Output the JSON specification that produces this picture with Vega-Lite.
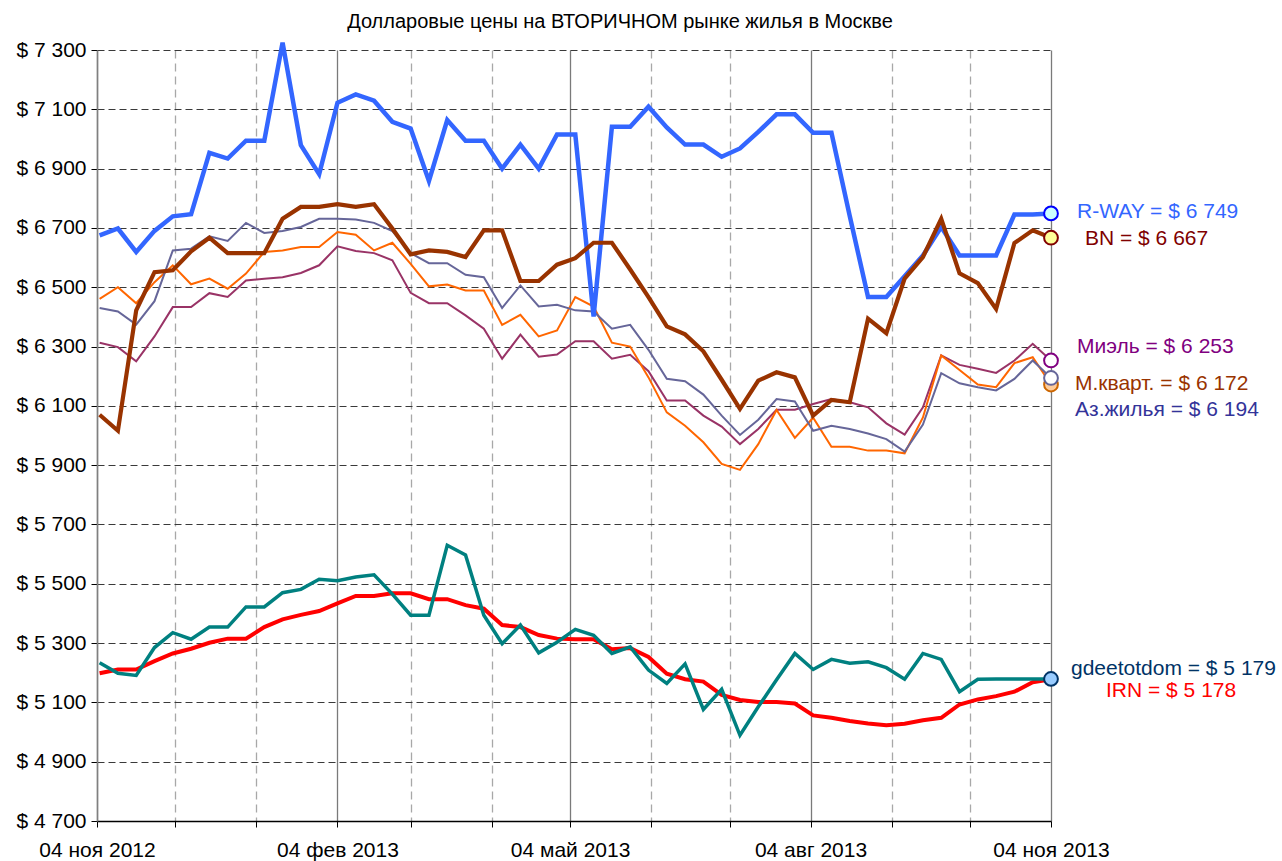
{
  "$schema": "https://vega.github.io/schema/vega-lite/v6.json",
  "width": 954,
  "height": 771,
  "autosize": {"type": "none"},
  "padding": {"left": 97, "top": 50, "right": 231, "bottom": 40},
  "background": "white",
  "config": {
    "font": "Liberation Sans",
    "view": {"stroke": null},
    "axis": {"labelFont": "Liberation Sans"}
  },
  "title": {
    "text": "Долларовые цены на ВТОРИЧНОМ рынке жилья в Москве",
    "fontSize": 20,
    "fontWeight": "normal",
    "font": "Liberation Sans",
    "color": "black",
    "anchor": "middle",
    "dx": 46,
    "offset": 2
  },
  "datasets": {
    "wide": [
      {"date": "2012-11-05", "rway": 6675, "bn": 6070, "mkv": 6461, "azh": 6430, "miel": 6313, "gde": 5234, "irn": 5198},
      {"date": "2012-11-12", "rway": 6698, "bn": 6016, "mkv": 6500, "azh": 6418, "miel": 6298, "gde": 5198, "irn": 5211},
      {"date": "2012-11-19", "rway": 6619, "bn": 6422, "mkv": 6446, "azh": 6374, "miel": 6250, "gde": 5191, "irn": 5211},
      {"date": "2012-11-26", "rway": 6690, "bn": 6551, "mkv": 6517, "azh": 6453, "miel": 6334, "gde": 5285, "irn": 5239},
      {"date": "2012-12-03", "rway": 6739, "bn": 6557, "mkv": 6574, "azh": 6624, "miel": 6433, "gde": 5335, "irn": 5265},
      {"date": "2012-12-10", "rway": 6746, "bn": 6621, "mkv": 6510, "azh": 6630, "miel": 6433, "gde": 5313, "irn": 5281},
      {"date": "2012-12-17", "rway": 6953, "bn": 6667, "mkv": 6529, "azh": 6672, "miel": 6480, "gde": 5354, "irn": 5301},
      {"date": "2012-12-24", "rway": 6934, "bn": 6615, "mkv": 6495, "azh": 6656, "miel": 6467, "gde": 5354, "irn": 5315},
      {"date": "2012-12-31", "rway": 6994, "bn": 6615, "mkv": 6546, "azh": 6717, "miel": 6523, "gde": 5422, "irn": 5315},
      {"date": "2013-01-07", "rway": 6994, "bn": 6615, "mkv": 6619, "azh": 6683, "miel": 6529, "gde": 5422, "irn": 5354},
      {"date": "2013-01-14", "rway": 7325, "bn": 6731, "mkv": 6624, "azh": 6690, "miel": 6534, "gde": 5470, "irn": 5380},
      {"date": "2013-01-21", "rway": 6979, "bn": 6771, "mkv": 6636, "azh": 6703, "miel": 6548, "gde": 5481, "irn": 5395},
      {"date": "2013-01-28", "rway": 6881, "bn": 6771, "mkv": 6636, "azh": 6731, "miel": 6574, "gde": 5515, "irn": 5408},
      {"date": "2013-02-04", "rway": 7122, "bn": 6780, "mkv": 6686, "azh": 6731, "miel": 6638, "gde": 5510, "irn": 5434},
      {"date": "2013-02-11", "rway": 7150, "bn": 6771, "mkv": 6677, "azh": 6728, "miel": 6622, "gde": 5523, "irn": 5459},
      {"date": "2013-02-18", "rway": 7129, "bn": 6780, "mkv": 6624, "azh": 6717, "miel": 6615, "gde": 5530, "irn": 5459},
      {"date": "2013-02-25", "rway": 7058, "bn": 6698, "mkv": 6650, "azh": 6689, "miel": 6591, "gde": 5465, "irn": 5468},
      {"date": "2013-03-04", "rway": 7035, "bn": 6611, "mkv": 6579, "azh": 6615, "miel": 6481, "gde": 5394, "irn": 5468},
      {"date": "2013-03-11", "rway": 6858, "bn": 6624, "mkv": 6503, "azh": 6581, "miel": 6446, "gde": 5394, "irn": 5448},
      {"date": "2013-03-18", "rway": 7064, "bn": 6619, "mkv": 6509, "azh": 6581, "miel": 6446, "gde": 5630, "irn": 5448},
      {"date": "2013-03-25", "rway": 6994, "bn": 6602, "mkv": 6489, "azh": 6542, "miel": 6405, "gde": 5597, "irn": 5428},
      {"date": "2013-04-01", "rway": 6994, "bn": 6692, "mkv": 6489, "azh": 6534, "miel": 6360, "gde": 5394, "irn": 5416},
      {"date": "2013-04-08", "rway": 6900, "bn": 6692, "mkv": 6373, "azh": 6430, "miel": 6259, "gde": 5298, "irn": 5361},
      {"date": "2013-04-15", "rway": 6981, "bn": 6521, "mkv": 6407, "azh": 6506, "miel": 6340, "gde": 5361, "irn": 5354},
      {"date": "2013-04-22", "rway": 6900, "bn": 6521, "mkv": 6334, "azh": 6435, "miel": 6266, "gde": 5267, "irn": 5327},
      {"date": "2013-04-29", "rway": 7015, "bn": 6576, "mkv": 6354, "azh": 6441, "miel": 6273, "gde": 5303, "irn": 5315},
      {"date": "2013-05-06", "rway": 7015, "bn": 6598, "mkv": 6467, "azh": 6422, "miel": 6318, "gde": 5346, "irn": 5313},
      {"date": "2013-05-13", "rway": 6401, "bn": 6650, "mkv": 6435, "azh": 6418, "miel": 6318, "gde": 5326, "irn": 5313},
      {"date": "2013-05-20", "rway": 7041, "bn": 6650, "mkv": 6313, "azh": 6360, "miel": 6259, "gde": 5265, "irn": 5279},
      {"date": "2013-05-27", "rway": 7041, "bn": 6560, "mkv": 6300, "azh": 6373, "miel": 6272, "gde": 5287, "irn": 5283},
      {"date": "2013-06-03", "rway": 7109, "bn": 6467, "mkv": 6196, "azh": 6289, "miel": 6217, "gde": 5209, "irn": 5253},
      {"date": "2013-06-10", "rway": 7039, "bn": 6368, "mkv": 6078, "azh": 6191, "miel": 6118, "gde": 5164, "irn": 5197},
      {"date": "2013-06-17", "rway": 6981, "bn": 6341, "mkv": 6033, "azh": 6183, "miel": 6118, "gde": 5230, "irn": 5178},
      {"date": "2013-06-24", "rway": 6981, "bn": 6284, "mkv": 5977, "azh": 6138, "miel": 6067, "gde": 5076, "irn": 5170},
      {"date": "2013-07-01", "rway": 6940, "bn": 6188, "mkv": 5904, "azh": 6067, "miel": 6030, "gde": 5144, "irn": 5125},
      {"date": "2013-07-08", "rway": 6968, "bn": 6090, "mkv": 5884, "azh": 6002, "miel": 5971, "gde": 4989, "irn": 5108},
      {"date": "2013-07-15", "rway": 7024, "bn": 6185, "mkv": 5971, "azh": 6053, "miel": 6022, "gde": 5085, "irn": 5101},
      {"date": "2013-07-22", "rway": 7083, "bn": 6213, "mkv": 6086, "azh": 6123, "miel": 6087, "gde": 5176, "irn": 5101},
      {"date": "2013-07-29", "rway": 7083, "bn": 6196, "mkv": 5992, "azh": 6115, "miel": 6087, "gde": 5265, "irn": 5096},
      {"date": "2013-08-05", "rway": 7021, "bn": 6067, "mkv": 6060, "azh": 6016, "miel": 6106, "gde": 5211, "irn": 5056},
      {"date": "2013-08-12", "rway": 7021, "bn": 6120, "mkv": 5962, "azh": 6033, "miel": 6123, "gde": 5245, "irn": 5048},
      {"date": "2013-08-19", "rway": 6740, "bn": 6112, "mkv": 5962, "azh": 6022, "miel": 6112, "gde": 5232, "irn": 5037},
      {"date": "2013-08-26", "rway": 6467, "bn": 6394, "mkv": 5949, "azh": 6007, "miel": 6095, "gde": 5237, "irn": 5029},
      {"date": "2013-09-02", "rway": 6467, "bn": 6345, "mkv": 5949, "azh": 5988, "miel": 6041, "gde": 5217, "irn": 5023},
      {"date": "2013-09-09", "rway": 6537, "bn": 6529, "mkv": 5940, "azh": 5946, "miel": 6003, "gde": 5178, "irn": 5028},
      {"date": "2013-09-16", "rway": 6607, "bn": 6602, "mkv": 6061, "azh": 6037, "miel": 6095, "gde": 5265, "irn": 5040},
      {"date": "2013-09-23", "rway": 6703, "bn": 6731, "mkv": 6270, "azh": 6210, "miel": 6270, "gde": 5245, "irn": 5048},
      {"date": "2013-09-30", "rway": 6607, "bn": 6547, "mkv": 6221, "azh": 6176, "miel": 6238, "gde": 5136, "irn": 5093},
      {"date": "2013-10-07", "rway": 6607, "bn": 6514, "mkv": 6172, "azh": 6163, "miel": 6225, "gde": 5178, "irn": 5110},
      {"date": "2013-10-14", "rway": 6607, "bn": 6427, "mkv": 6163, "azh": 6152, "miel": 6211, "gde": 5179, "irn": 5121},
      {"date": "2013-10-21", "rway": 6745, "bn": 6649, "mkv": 6244, "azh": 6191, "miel": 6253, "gde": 5179, "irn": 5136},
      {"date": "2013-10-28", "rway": 6745, "bn": 6692, "mkv": 6264, "azh": 6253, "miel": 6309, "gde": 5179, "irn": 5168},
      {"date": "2013-11-04", "rway": 6749, "bn": 6667, "mkv": 6172, "azh": 6194, "miel": 6253, "gde": 5179, "irn": 5178}
    ],
    "ends": [
      {"series": "mkv", "date": "2013-11-04", "value": 6172, "label": "М.кварт. = $ 6 172"},
      {"series": "azh", "date": "2013-11-04", "value": 6194, "label": "Аз.жилья = $ 6 194"},
      {"series": "miel", "date": "2013-11-04", "value": 6253, "label": "Миэль = $ 6 253"},
      {"series": "bn", "date": "2013-11-04", "value": 6667, "label": "BN = $ 6 667"},
      {"series": "rway", "date": "2013-11-04", "value": 6749, "label": "R-WAY = $ 6 749"},
      {"series": "irn", "date": "2013-11-04", "value": 5178, "label": "IRN = $ 5 178"},
      {"series": "gde", "date": "2013-11-04", "value": 5179, "label": "gdeetotdom = $ 5 179"}
    ]
  },
  "encoding": {
    "x": {
      "field": "date",
      "type": "temporal",
      "scale": {
        "type": "utc",
        "domain": [
          {"year": 2012, "month": 11, "date": 4, "utc": true},
          {"year": 2013, "month": 11, "date": 4, "utc": true}
        ]
      },
      "axis": {
        "title": null,
        "values": [
          {"year": 2012, "month": 11, "date": 4, "utc": true},
          {"year": 2012, "month": 12, "date": 4, "utc": true},
          {"year": 2013, "month": 1, "date": 4, "utc": true},
          {"year": 2013, "month": 2, "date": 4, "utc": true},
          {"year": 2013, "month": 3, "date": 4, "utc": true},
          {"year": 2013, "month": 4, "date": 4, "utc": true},
          {"year": 2013, "month": 5, "date": 4, "utc": true},
          {"year": 2013, "month": 6, "date": 4, "utc": true},
          {"year": 2013, "month": 7, "date": 4, "utc": true},
          {"year": 2013, "month": 8, "date": 4, "utc": true},
          {"year": 2013, "month": 9, "date": 4, "utc": true},
          {"year": 2013, "month": 10, "date": 4, "utc": true},
          {"year": 2013, "month": 11, "date": 4, "utc": true}
        ],
        "labelExpr": "utcmonth(datum.value) % 3 == 1 ? '04 ' + ['янв','фев','мар','апр','май','июн','июл','авг','сен','окт','ноя','дек'][utcmonth(datum.value)] + ' ' + utcFormat(datum.value, '%Y') : ''",
        "labelFontSize": 21,
        "labelColor": "black",
        "labelPadding": 12,
        "labelFlush": false,
        "labelOverlap": false,
        "tickSize": 6,
        "tickColor": "black",
        "domainColor": "black",
        "domainWidth": 1.5,
        "grid": true,
        "gridColor": {"condition": {"test": "utcmonth(datum.value) % 3 == 1", "value": "#7a7a7a"}, "value": "#a8a8a8"},
        "gridDash": {"condition": {"test": "utcmonth(datum.value) % 3 == 1", "value": [1, 0]}, "value": [8, 5]},
        "gridWidth": 1.3
      }
    }
  },
  "layer": [
    {
      "data": {"name": "wide"},
      "mark": {"type": "line", "color": "#993366", "strokeWidth": 2},
      "encoding": {
        "y": {
          "field": "miel",
          "type": "quantitative",
          "title": null,
          "scale": {"domain": [4700, 7300], "nice": false, "zero": false},
          "axis": {
            "title": null,
            "values": [4700, 4900, 5100, 5300, 5500, 5700, 5900, 6100, 6300, 6500, 6700, 6900, 7100, 7300],
            "labelExpr": "'$ ' + replace(format(datum.value, ','), ',', ' ')",
            "labelFontSize": 21,
            "labelColor": "black",
            "labelPadding": 5,
            "tickSize": 6,
            "tickColor": "black",
            "domainColor": "#808080",
            "domainWidth": 1.5,
            "grid": true,
            "gridColor": "#3a3a3a",
            "gridDash": [7, 4],
            "gridWidth": 1
          }
        }
      }
    },
    {
      "data": {"name": "wide"},
      "mark": {"type": "line", "color": "#FF6600", "strokeWidth": 2},
      "encoding": {"y": {"field": "mkv", "type": "quantitative", "title": null}}
    },
    {
      "data": {"name": "wide"},
      "mark": {"type": "line", "color": "#666699", "strokeWidth": 2},
      "encoding": {"y": {"field": "azh", "type": "quantitative", "title": null}}
    },
    {
      "data": {"name": "wide"},
      "mark": {"type": "line", "color": "#FF0000", "strokeWidth": 4},
      "encoding": {"y": {"field": "irn", "type": "quantitative", "title": null}}
    },
    {
      "data": {"name": "wide"},
      "mark": {"type": "line", "color": "#008080", "strokeWidth": 3.5},
      "encoding": {"y": {"field": "gde", "type": "quantitative", "title": null}}
    },
    {
      "data": {"name": "wide"},
      "mark": {"type": "line", "color": "#3366FF", "strokeWidth": 4.5},
      "encoding": {"y": {"field": "rway", "type": "quantitative", "title": null}}
    },
    {
      "data": {"name": "wide"},
      "mark": {"type": "line", "color": "#993300", "strokeWidth": 4.2},
      "encoding": {"y": {"field": "bn", "type": "quantitative", "title": null}}
    },
    {
      "data": {"name": "ends"},
      "transform": [{"filter": "datum.series != 'irn'"}],
      "mark": {"type": "point", "shape": "circle", "filled": false, "size": 190, "strokeWidth": 2, "opacity": 1},
      "encoding": {
        "y": {"field": "value", "type": "quantitative", "title": null},
        "fill": {
          "field": "series",
          "type": "nominal",
          "legend": null,
          "scale": {"domain": ["mkv", "azh", "miel", "bn", "rway", "gde"], "range": ["#FFCC99", "#FFFFFF", "#FFFFFF", "#FFFF99", "#CCFFFF", "#99CCFF"]}
        },
        "stroke": {
          "field": "series",
          "type": "nominal",
          "legend": null,
          "scale": {"domain": ["mkv", "azh", "miel", "bn", "rway", "gde"], "range": ["#CC6600", "#666699", "#800080", "#800000", "#0000FF", "#003366"]}
        }
      }
    },
    {
      "data": {"name": "ends"},
      "transform": [{"filter": "datum.series == 'rway'"}],
      "mark": {"type": "text", "align": "left", "baseline": "middle", "dx": 26, "dy": -1, "fontSize": 21, "color": "#3366FF"},
      "encoding": {"y": {"field": "value", "type": "quantitative", "title": null}, "text": {"field": "label"}}
    },
    {
      "data": {"name": "ends"},
      "transform": [{"filter": "datum.series == 'bn'"}],
      "mark": {"type": "text", "align": "left", "baseline": "middle", "dx": 34, "dy": 1, "fontSize": 21, "color": "#800000"},
      "encoding": {"y": {"field": "value", "type": "quantitative", "title": null}, "text": {"field": "label"}}
    },
    {
      "data": {"name": "ends"},
      "transform": [{"filter": "datum.series == 'miel'"}],
      "mark": {"type": "text", "align": "left", "baseline": "middle", "dx": 26, "dy": -13, "fontSize": 21, "color": "#800080"},
      "encoding": {"y": {"field": "value", "type": "quantitative", "title": null}, "text": {"field": "label"}}
    },
    {
      "data": {"name": "ends"},
      "transform": [{"filter": "datum.series == 'mkv'"}],
      "mark": {"type": "text", "align": "left", "baseline": "middle", "dx": 24, "dy": 0, "fontSize": 21, "color": "#993300"},
      "encoding": {"y": {"field": "value", "type": "quantitative", "title": null}, "text": {"field": "label"}}
    },
    {
      "data": {"name": "ends"},
      "transform": [{"filter": "datum.series == 'azh'"}],
      "mark": {"type": "text", "align": "left", "baseline": "middle", "dx": 24, "dy": 32, "fontSize": 21, "color": "#333399"},
      "encoding": {"y": {"field": "value", "type": "quantitative", "title": null}, "text": {"field": "label"}}
    },
    {
      "data": {"name": "ends"},
      "transform": [{"filter": "datum.series == 'gde'"}],
      "mark": {"type": "text", "align": "left", "baseline": "middle", "dx": 20, "dy": -10, "fontSize": 21, "color": "#003366"},
      "encoding": {"y": {"field": "value", "type": "quantitative", "title": null}, "text": {"field": "label"}}
    },
    {
      "data": {"name": "ends"},
      "transform": [{"filter": "datum.series == 'irn'"}],
      "mark": {"type": "text", "align": "left", "baseline": "middle", "dx": 55, "dy": 12, "fontSize": 21, "color": "#FF0000"},
      "encoding": {"y": {"field": "value", "type": "quantitative", "title": null}, "text": {"field": "label"}}
    }
  ]
}
